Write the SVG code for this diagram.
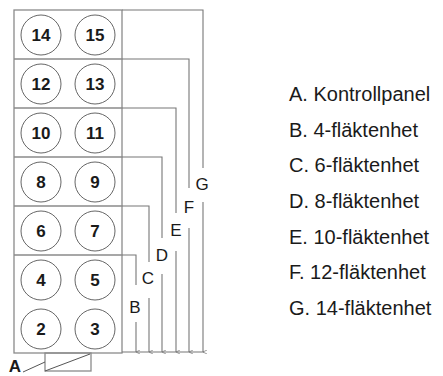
<svg xmlns="http://www.w3.org/2000/svg" width="443" height="376" viewBox="0 0 443 376">
<style>
.box{fill:none;stroke:#8a8a8a;stroke-width:1.3}
.fan{fill:#fff;stroke:#666;stroke-width:1}
.num{font-family:"Liberation Sans",Arial,sans-serif;font-weight:bold;font-size:17px;fill:#1a1a1a;text-anchor:middle}
.dim{fill:none;stroke:#777;stroke-width:1.1}
.lbl{font-family:"Liberation Sans",Arial,sans-serif;font-size:17px;fill:#1a1a1a;text-anchor:middle}
.leg{font-family:"Liberation Sans",Arial,sans-serif;font-size:20px;fill:#1a1a1a}
</style>
<defs>
<marker id="ah" viewBox="0 0 6 6" refX="3" refY="6" markerWidth="4" markerHeight="4" orient="auto-start-reverse">
<path d="M0,0 L3,6 L6,0" fill="none" stroke="#777" stroke-width="1"/>
</marker>
</defs>
<g id="cabinet">
<rect class="box" x="14" y="10" width="108" height="343"/>
<line class="box" x1="14" y1="59" x2="122" y2="59"/>
<line class="box" x1="14" y1="108" x2="122" y2="108"/>
<line class="box" x1="14" y1="157" x2="122" y2="157"/>
<line class="box" x1="14" y1="206" x2="122" y2="206"/>
<line class="box" x1="14" y1="255" x2="122" y2="255"/>
</g>
<g id="fan14"><circle class="fan" cx="41" cy="35" r="20"/><text class="num" x="41" y="41">14</text></g>
<g id="fan15"><circle class="fan" cx="95" cy="35" r="20"/><text class="num" x="95" y="41">15</text></g>
<g id="fan12"><circle class="fan" cx="41" cy="84" r="20"/><text class="num" x="41" y="90">12</text></g>
<g id="fan13"><circle class="fan" cx="95" cy="84" r="20"/><text class="num" x="95" y="90">13</text></g>
<g id="fan10"><circle class="fan" cx="41" cy="133" r="20"/><text class="num" x="41" y="139">10</text></g>
<g id="fan11"><circle class="fan" cx="95" cy="133" r="20"/><text class="num" x="95" y="139">11</text></g>
<g id="fan8"><circle class="fan" cx="41" cy="182" r="20"/><text class="num" x="41" y="188">8</text></g>
<g id="fan9"><circle class="fan" cx="95" cy="182" r="20"/><text class="num" x="95" y="188">9</text></g>
<g id="fan6"><circle class="fan" cx="41" cy="231" r="20"/><text class="num" x="41" y="237">6</text></g>
<g id="fan7"><circle class="fan" cx="95" cy="231" r="20"/><text class="num" x="95" y="237">7</text></g>
<g id="fan4"><circle class="fan" cx="41" cy="280" r="20"/><text class="num" x="41" y="286">4</text></g>
<g id="fan5"><circle class="fan" cx="95" cy="280" r="20"/><text class="num" x="95" y="286">5</text></g>
<g id="fan2"><circle class="fan" cx="41" cy="329" r="20"/><text class="num" x="41" y="335">2</text></g>
<g id="fan3"><circle class="fan" cx="95" cy="329" r="20"/><text class="num" x="95" y="335">3</text></g>
<g id="panelA">
<rect class="box" x="45" y="353" width="46" height="18" stroke="#555" stroke-width="1"/>
<line x1="45" y1="371" x2="90" y2="354" stroke="#555" stroke-width="1"/>
<line x1="23" y1="372" x2="45" y2="362" stroke="#555" stroke-width="1"/>
<text class="lbl" x="15" y="372" font-size="14" font-weight="bold">A</text>
</g>
<g id="connectors">
<line class="dim" x1="122" y1="352" x2="204" y2="352" stroke="#bbb"/>
<path class="dim" d="M122,10 H203 V168"/>
<path class="dim" d="M203,202 V352" marker-end="url(#ah)"/>
<path class="dim" d="M122,59 H189 V188"/>
<path class="dim" d="M189,228 V352" marker-end="url(#ah)"/>
<path class="dim" d="M122,108 H176 V213"/>
<path class="dim" d="M176,251 V352" marker-end="url(#ah)"/>
<path class="dim" d="M122,157 H162 V238"/>
<path class="dim" d="M162,274 V352" marker-end="url(#ah)"/>
<path class="dim" d="M122,206 H149 V262"/>
<path class="dim" d="M149,298 V352" marker-end="url(#ah)"/>
<path class="dim" d="M122,255 H136 V285"/>
<path class="dim" d="M136,322 V352" marker-end="url(#ah)"/>
</g>
<g id="dimlabels">
<text class="lbl" x="202" y="190">G</text>
<text class="lbl" x="189" y="213">F</text>
<text class="lbl" x="176" y="236">E</text>
<text class="lbl" x="162" y="261">D</text>
<text class="lbl" x="148" y="284">C</text>
<text class="lbl" x="135" y="313">B</text>
</g>
<g id="legend">
<text class="leg" x="289" y="101">A. Kontrollpanel</text>
<text class="leg" x="289" y="136.7">B. 4-fläktenhet</text>
<text class="leg" x="289" y="172.3">C. 6-fläktenhet</text>
<text class="leg" x="289" y="208">D. 8-fläktenhet</text>
<text class="leg" x="289" y="243.7">E. 10-fläktenhet</text>
<text class="leg" x="289" y="279.3">F. 12-fläktenhet</text>
<text class="leg" x="289" y="315">G. 14-fläktenhet</text>
</g>
</svg>
